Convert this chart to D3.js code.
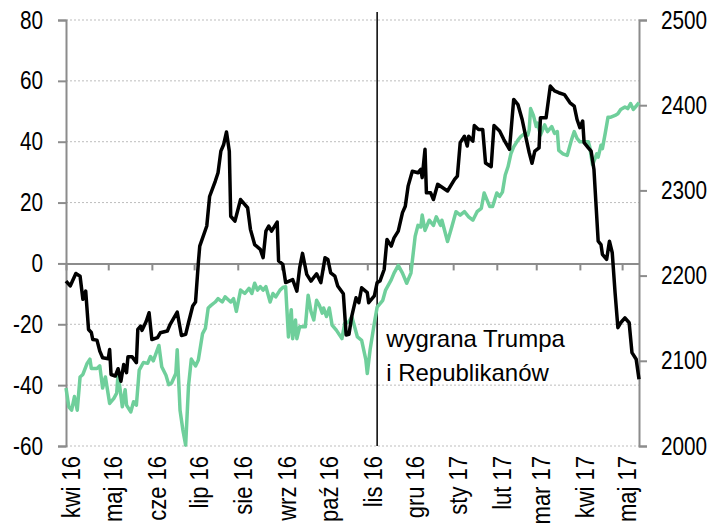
<!DOCTYPE html>
<html lang="pl">
<head>
<meta charset="UTF-8" />
<title>Wykres</title>
<style>
    body { margin: 0; background: #fff; }
    #chart text { fill: #000; }
    .narrow { font-family: "Liberation Sans", Arial, sans-serif; font-size: 25px; }
</style>
</head>
<body>
<div id="chart"></div>
<script src="https://cdn.jsdelivr.net/npm/d3@7"></script>
<script>
// daty i wartości serii czarnej (lewa oś)
const leftDates = [
    "2016-04-01","2016-04-04","2016-04-08","2016-04-11","2016-04-13","2016-04-15","2016-04-17","2016-04-19","2016-04-20","2016-04-23",
    "2016-04-25","2016-04-27","2016-05-01","2016-05-02","2016-05-03","2016-05-06","2016-05-08","2016-05-10","2016-05-12","2016-05-14",
    "2016-05-15","2016-05-18","2016-05-21","2016-05-22","2016-05-24","2016-05-25","2016-05-28","2016-05-30","2016-06-01","2016-06-05",
    "2016-06-07","2016-06-12","2016-06-14","2016-06-19","2016-06-22","2016-06-25","2016-06-27","2016-06-30","2016-07-02","2016-07-04",
    "2016-07-05","2016-07-10","2016-07-12","2016-07-16","2016-07-18","2016-07-20","2016-07-22","2016-07-24","2016-07-26","2016-07-27",
    "2016-07-30","2016-08-03","2016-08-08","2016-08-10","2016-08-13","2016-08-17","2016-08-19","2016-08-21","2016-08-23","2016-08-25",
    "2016-08-29","2016-08-30","2016-09-02","2016-09-04","2016-09-09","2016-09-12","2016-09-14","2016-09-16","2016-09-19","2016-09-22",
    "2016-09-26","2016-09-29","2016-10-02","2016-10-04","2016-10-06","2016-10-09","2016-10-11","2016-10-15","2016-10-17","2016-10-19",
    "2016-10-21","2016-10-24","2016-10-26","2016-10-28","2016-11-01","2016-11-02","2016-11-06","2016-11-08","2016-11-10","2016-11-13",
    "2016-11-15","2016-11-18","2016-11-20","2016-11-23","2016-11-26","2016-11-28","2016-11-30","2016-12-03","2016-12-07","2016-12-09",
    "2016-12-10","2016-12-12","2016-12-13","2016-12-16","2016-12-18","2016-12-21","2016-12-28","2017-01-02","2017-01-04","2017-01-06",
    "2017-01-09","2017-01-11","2017-01-12","2017-01-15","2017-01-16","2017-01-19","2017-01-22","2017-01-24","2017-01-28","2017-01-30",
    "2017-02-03","2017-02-06","2017-02-10","2017-02-13","2017-02-16","2017-02-19","2017-02-22","2017-02-24","2017-02-26","2017-02-28",
    "2017-03-03","2017-03-04","2017-03-08","2017-03-11","2017-03-14","2017-03-17","2017-03-21","2017-03-25","2017-03-28","2017-03-30",
    "2017-04-01","2017-04-03","2017-04-04","2017-04-07","2017-04-09","2017-04-11","2017-04-14","2017-04-16","2017-04-17","2017-04-20",
    "2017-04-22","2017-04-24","2017-04-26","2017-04-28","2017-04-30","2017-05-03","2017-05-06","2017-05-08","2017-05-11","2017-05-13"
];
const leftValues = [
    -5.8, -7.4, -3.3, -4.2, -11.8, -9.1, -21.7, -22.7, -25, -25.2,
    -28.8, -31, -31.3, -28.3, -36.5, -37, -34.6, -38.7, -33.2, -35.9,
    -30.7, -30.7, -32.6, -21.7, -20.6, -22, -19, -16.2, -25, -24.4,
    -22.8, -22.2, -20, -16, -23.7, -23.3, -19.5, -14, -12.7, 0.2,
    5.7, 12.3, 22, 27, 29.8, 36.9, 39.1, 43.2, 36.9, 15.5,
    13.9, 21, 18.3, 11.2, 6.2, 4.6, 1.9, 10.6, 12.3, 10.6,
    13.6, 0.8, -0.3, -6.3, -5.3, -9.1, -1.4, 3.3, -3.6, -5.8,
    -3.4, -6.3, 1.9, 1.3, -3.1, -4.2, -7.4, -10, -23.5, -23.3,
    -17.3, -11.3, -12.9, -8, -9.6, -12.9, -10.7, -6.3, -5.8, -2,
    7.9, 5.7, 8.4, 10.6, 16.7, 18.8, 25.4, 30.3, 29.8, 30.9,
    28.2, 37.5, 23.2, 23.2, 21, 26, 23.8, 27.6, 28.7, 39.7,
    41.8, 38.6, 41.8, 40.2, 45.3, 44, 44, 33, 31.8, 45.3,
    43.5, 40.7, 37.5, 53.9, 52.2, 47.3, 40.7, 36.4, 32.9, 36.9,
    38, 47.9, 47.9, 58.3, 56.7, 56.1, 55.5, 52.8, 51.7, 47.3,
    44.6, 46.8, 39.7, 38, 36.9, 30.9, 7.3, 6.2, 3, 1.3,
    7.3, 3.5, -9.6, -21.1, -19.5, -17.9, -19.5, -29.3, -31.5, -38.1
];

// daty i wartości serii zielonej (S&P 500, prawa oś)
const sp500Dates = [
    "2016-04-01","2016-04-03","2016-04-05","2016-04-07","2016-04-09","2016-04-11","2016-04-13","2016-04-16","2016-04-18","2016-04-19",
    "2016-04-23","2016-04-25","2016-04-27","2016-04-29","2016-05-02","2016-05-05","2016-05-07","2016-05-08","2016-05-11","2016-05-13",
    "2016-05-14","2016-05-17","2016-05-19","2016-05-21","2016-05-23","2016-05-26","2016-05-29","2016-05-31","2016-06-02","2016-06-06",
    "2016-06-08","2016-06-11","2016-06-13","2016-06-15","2016-06-18","2016-06-19","2016-06-21","2016-06-23","2016-06-25","2016-06-27",
    "2016-06-29","2016-07-02","2016-07-04","2016-07-07","2016-07-09","2016-07-11","2016-07-13","2016-07-16","2016-07-18","2016-07-21",
    "2016-07-23","2016-07-27","2016-07-29","2016-07-31","2016-08-03","2016-08-06","2016-08-09","2016-08-11","2016-08-13","2016-08-15",
    "2016-08-17","2016-08-19","2016-08-21","2016-08-24","2016-08-26","2016-08-28","2016-08-31","2016-09-02","2016-09-04","2016-09-06",
    "2016-09-08","2016-09-09","2016-09-11","2016-09-12","2016-09-14","2016-09-18","2016-09-20","2016-09-22","2016-09-24","2016-09-26",
    "2016-09-28","2016-09-30","2016-10-01","2016-10-03","2016-10-05","2016-10-07","2016-10-10","2016-10-14","2016-10-16","2016-10-19",
    "2016-10-21","2016-10-25","2016-10-28","2016-10-31","2016-11-01","2016-11-03","2016-11-06","2016-11-08","2016-11-12","2016-11-14",
    "2016-11-18","2016-11-20","2016-11-23","2016-11-26","2016-11-29","2016-12-02","2016-12-05","2016-12-07","2016-12-09","2016-12-10",
    "2016-12-12","2016-12-15","2016-12-18","2016-12-20","2016-12-23","2016-12-24","2016-12-28","2016-12-31","2017-01-03","2017-01-06",
    "2017-01-09","2017-01-12","2017-01-15","2017-01-18","2017-01-21","2017-01-23","2017-01-27","2017-01-29","2017-02-01","2017-02-03",
    "2017-02-05","2017-02-07","2017-02-09","2017-02-11","2017-02-13","2017-02-16","2017-02-18","2017-02-21","2017-02-23","2017-02-24",
    "2017-02-25","2017-02-27","2017-03-01","2017-03-02","2017-03-04","2017-03-07","2017-03-09","2017-03-12","2017-03-14","2017-03-16",
    "2017-03-17","2017-03-20","2017-03-23","2017-03-26","2017-03-28","2017-03-30","2017-04-01","2017-04-07","2017-04-08","2017-04-10",
    "2017-04-13","2017-04-14","2017-04-16","2017-04-17","2017-04-19","2017-04-21","2017-04-23","2017-04-26","2017-04-28","2017-04-30",
    "2017-05-03","2017-05-05","2017-05-07","2017-05-09","2017-05-11","2017-05-13"
];
const sp500Values = [
    2068, 2046, 2042, 2058, 2042, 2081, 2084, 2097, 2102, 2091,
    2091, 2094, 2068, 2081, 2050, 2056, 2062, 2085, 2046, 2066,
    2048, 2040, 2052, 2048, 2089, 2098, 2097, 2105, 2100, 2118,
    2093, 2083, 2072, 2074, 2085, 2113, 2042, 2019, 2001, 2070,
    2102, 2094, 2101, 2132, 2138, 2162, 2165, 2169, 2173, 2169,
    2175, 2169, 2173, 2158, 2183, 2179, 2185, 2179, 2191, 2183,
    2187, 2183, 2187, 2169, 2179, 2175, 2183, 2186, 2187, 2128,
    2160, 2126, 2148, 2126, 2140, 2140, 2177, 2158, 2148, 2171,
    2165, 2156, 2162, 2152, 2162, 2142, 2136, 2126, 2144, 2146,
    2152, 2128, 2124, 2101, 2085, 2113, 2144, 2163, 2171, 2183,
    2195, 2203, 2212, 2203, 2191, 2203, 2246, 2259, 2257, 2271,
    2253, 2265, 2259, 2269, 2259, 2265, 2240, 2257, 2275, 2271,
    2275, 2269, 2265, 2275, 2279, 2297, 2281, 2281, 2297, 2293,
    2298, 2318, 2328, 2343, 2351, 2359, 2363, 2367, 2365, 2371,
    2396, 2388, 2375, 2379, 2365, 2377, 2369, 2375, 2367, 2369,
    2347, 2343, 2341, 2359, 2369, 2361, 2357, 2357, 2351, 2330,
    2343, 2339, 2353, 2349, 2367, 2386, 2386, 2388, 2390, 2395,
    2398, 2396, 2402, 2395, 2399, 2403
];

// osie i opisy
const monthStarts = ["2016-04-01","2016-05-01","2016-06-01","2016-07-01","2016-08-01","2016-09-01","2016-10-01",
    "2016-11-01","2016-12-01","2017-01-01","2017-02-01","2017-03-01","2017-04-01","2017-05-01"];
const monthLabels = ["kwi 16","maj 16","cze 16","lip 16","sie 16","wrz 16","paź 16",
    "lis 16","gru 16","sty 17","lut 17","mar 17","kwi 17","maj 17"];
const leftTicks = [-60, -40, -20, 0, 20, 40, 60, 80];
const rightTicks = [2000, 2100, 2200, 2300, 2400, 2500];
const eventDate = "2016-11-08";
const eventLabel = ["wygrana Trumpa", "i Republikanów"];

const width = 714, height = 529;
const margin = {top: 20, right: 75, bottom: 83, left: 66};
const parse = d3.timeParse("%Y-%m-%d");
// brak kroju "narrow" – zwężamy zwykły krój
const sqY = 0.83, sqX = 0.88;

const svg = d3.select("#chart").append("svg")
    .attr("width", width)
    .attr("height", height);

const x = d3.scaleTime()
    .domain([parse("2016-04-01"), parse("2017-05-13")])
    .range([margin.left, width - margin.right]);
const yL = d3.scaleLinear().domain([-60, 80]).range([height - margin.bottom, margin.top]);
const yR = d3.scaleLinear().domain([2000, 2500]).range([height - margin.bottom, margin.top]);

// siatka pozioma (kropkowana)
svg.append("g")
    .selectAll("line")
    .data(leftTicks.filter(d => d !== 0))
    .join("line")
    .attr("x1", margin.left)
    .attr("x2", width - margin.right)
    .attr("y1", d => yL(d))
    .attr("y2", d => yL(d))
    .attr("stroke", "#bdbdbd")
    .attr("stroke-width", 1)
    .attr("stroke-dasharray", "2,2");

// oś lewa
const axL = svg.append("g")
    .attr("transform", `translate(${margin.left},0)`)
    .call(d3.axisLeft(yL).tickValues(leftTicks).tickSize(8).tickPadding(15).tickFormat(d => String(d)));
axL.selectAll(".tick text").attr("x", -23 / sqY).attr("transform", `scale(${sqY},1)`);
// oś prawa
const axR = svg.append("g")
    .attr("transform", `translate(${width - margin.right},0)`)
    .call(d3.axisRight(yR).tickValues(rightTicks).tickSize(8).tickPadding(14).tickFormat(d => String(d)));
axR.selectAll(".tick text").attr("x", 22 / sqY).attr("transform", `scale(${sqY},1)`);
[axL, axR].forEach(g => {
    g.select(".domain").attr("stroke", "#8c8c8c").attr("stroke-width", 2);
    g.selectAll(".tick line").attr("stroke", "#8c8c8c").attr("stroke-width", 2);
    g.selectAll(".tick text").attr("class", "narrow");
});

// linia zera z kreskami miesięcy
const axZero = svg.append("g")
    .attr("transform", `translate(0,${yL(0)})`)
    .call(d3.axisBottom(x).tickValues(monthStarts.map(parse)).tickSize(7).tickSizeOuter(0).tickFormat(""));
axZero.select(".domain").attr("stroke", "#8c8c8c").attr("stroke-width", 2);
axZero.selectAll(".tick line").attr("stroke", "#8c8c8c").attr("stroke-width", 2);

// etykiety miesięcy (pionowo)
const axBottom = svg.append("g")
    .attr("transform", `translate(0,${height - margin.bottom})`)
    .call(d3.axisBottom(x).tickValues(monthStarts.map(parse)).tickSize(0)
        .tickFormat((d, i) => monthLabels[i]));
axBottom.select(".domain").remove();
axBottom.selectAll(".tick text")
    .attr("class", "narrow")
    .attr("transform", `rotate(-90) scale(${sqX},1)`)
    .attr("text-anchor", "end")
    .attr("x", -10 / sqX)
    .attr("y", 5)
    .attr("dy", "0.35em");

// pionowa linia: wybory w USA
svg.append("line")
    .attr("x1", x(parse(eventDate)))
    .attr("x2", x(parse(eventDate)))
    .attr("y1", 12)
    .attr("y2", yL(-60))
    .attr("stroke", "#000")
    .attr("stroke-width", 1.5);

svg.append("text")
    .attr("x", x(parse(eventDate)) + 9)
    .attr("y", 347)
    .style("font-family", "'Liberation Sans', Arial, sans-serif")
    .style("font-size", "24px")
    .selectAll("tspan")
    .data(eventLabel)
    .join("tspan")
    .attr("x", x(parse(eventDate)) + 9)
    .attr("dy", (d, i) => i === 0 ? 0 : 34)
    .text(d => d);

// serie
const greenLine = d3.line()
    .x((d, i) => x(parse(sp500Dates[i])))
    .y(d => yR(d));
svg.append("path")
    .datum(sp500Values)
    .attr("fill", "none")
    .attr("stroke", "#6fcf9b")
    .attr("stroke-width", 3.5)
    .attr("stroke-linejoin", "round")
    .attr("d", greenLine);

const blackLine = d3.line()
    .x((d, i) => x(parse(leftDates[i])))
    .y(d => yL(d));
svg.append("path")
    .datum(leftValues)
    .attr("fill", "none")
    .attr("stroke", "#000")
    .attr("stroke-width", 3.5)
    .attr("stroke-linejoin", "round")
    .attr("d", blackLine);
</script>
</body>
</html>
